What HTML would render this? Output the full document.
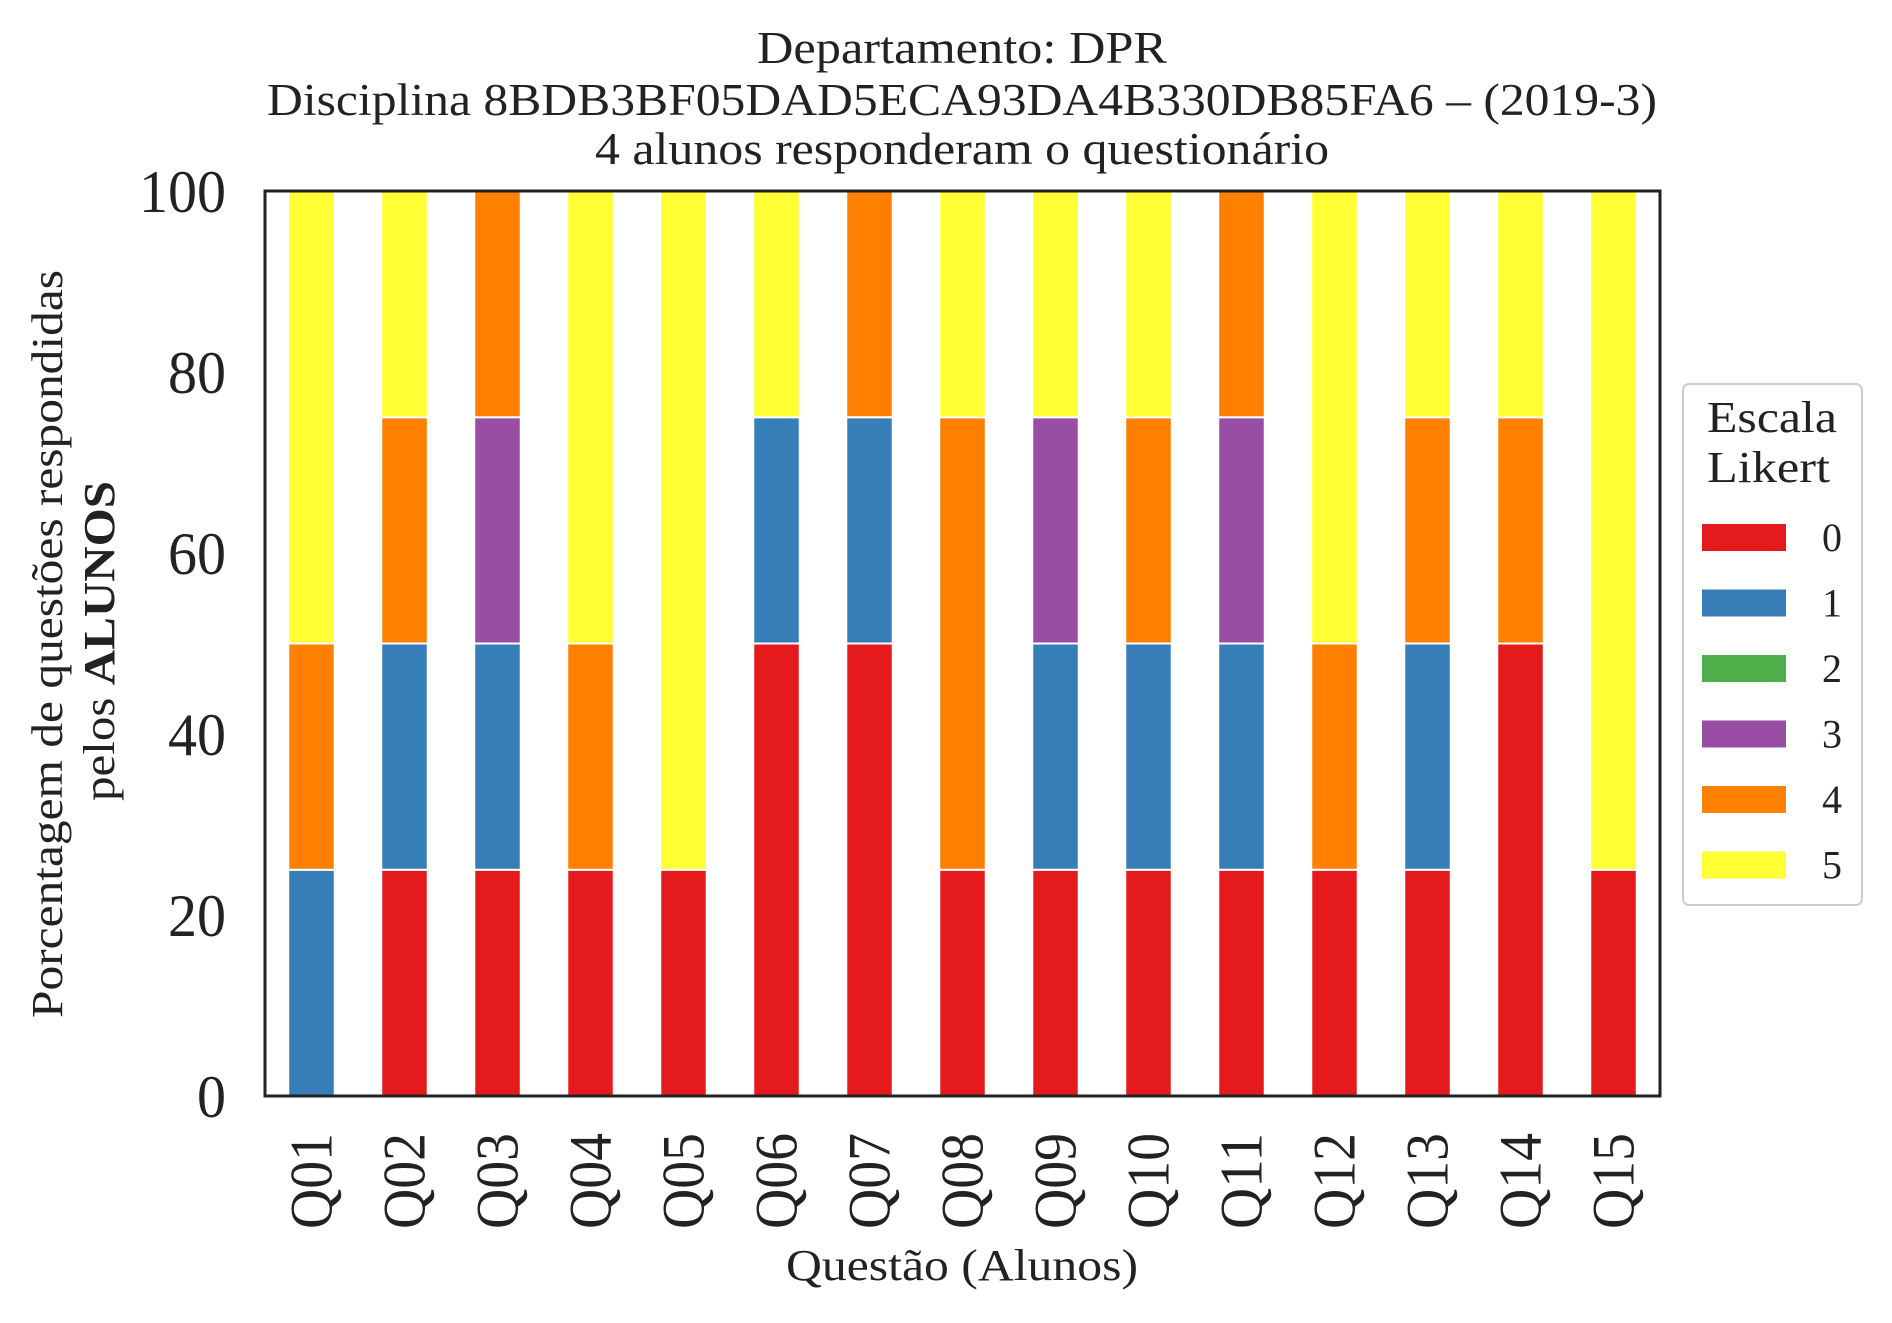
<!DOCTYPE html>
<html><head><meta charset="utf-8"><style>body{margin:0;background:#fff}svg{display:block}text{font-family:"Liberation Serif",serif;fill:#222}</style></head>
<body>
<svg id="c" width="1892" height="1323" xmlns="http://www.w3.org/2000/svg">
<text x="962" y="63" font-size="45" text-anchor="middle" textLength="410" lengthAdjust="spacingAndGlyphs">Departamento: DPR</text>
<text x="962" y="115" font-size="45" text-anchor="middle" textLength="1390" lengthAdjust="spacingAndGlyphs">Disciplina 8BDB3BF05DAD5ECA93DA4B330DB85FA6 – (2019-3)</text>
<text x="962" y="164" font-size="45" text-anchor="middle" textLength="734" lengthAdjust="spacingAndGlyphs">4 alunos responderam o questionário</text>
<g id="bars"></g>
<g id="yt"></g>
<g id="xt"></g>
<rect x="265" y="191" width="1395" height="905" fill="none" stroke="#222" stroke-width="3"/>
<text transform="translate(62,644) rotate(-90)" font-size="44" text-anchor="middle" textLength="748" lengthAdjust="spacingAndGlyphs">Porcentagem de questões respondidas</text>
<text transform="translate(114,641) rotate(-90)" font-size="44" text-anchor="middle" textLength="320" lengthAdjust="spacingAndGlyphs">pelos <tspan font-weight="bold">ALUNOS</tspan></text>
<text x="962" y="1280" font-size="44" text-anchor="middle" textLength="352" lengthAdjust="spacingAndGlyphs">Questão (Alunos)</text>
<g>
<rect x="1683" y="384" width="179" height="521" rx="6" fill="#fff" stroke="#ccc" stroke-width="2"/>
<text x="1707" y="432" font-size="44" textLength="130" lengthAdjust="spacingAndGlyphs">Escala</text>
<text x="1707" y="482" font-size="44" textLength="123" lengthAdjust="spacingAndGlyphs">Likert</text>
<g id="leg"></g>
</g>
</svg>
<script>
const categories=["Q01","Q02","Q03","Q04","Q05","Q06","Q07","Q08","Q09","Q10","Q11","Q12","Q13","Q14","Q15"];
const levels=["0","1","2","3","4","5"];
const colors=["#e41a1c","#377eb8","#4daf4a","#984ea3","#ff7f00","#ffff33"];
const s0=[0,25,25,25,25,50,50,25,25,25,25,25,25,50,25];
const s1=[25,25,25,0,0,25,25,0,25,25,25,0,25,0,0];
const s2=[0,0,0,0,0,0,0,0,0,0,0,0,0,0,0];
const s3=[0,0,25,0,0,0,0,0,25,0,25,0,0,0,0];
const s4=[25,25,25,25,0,0,25,50,0,25,25,25,25,25,0];
const s5=[50,25,0,50,75,25,0,25,25,25,0,50,25,25,75];
const yTicks=[0,20,40,60,80,100];
const series=[s0,s1,s2,s3,s4,s5];
const NS="http://www.w3.org/2000/svg";
const L=265,R=1660,T=191,B=1096;
const bw=(R-L)/categories.length;
const xc=i=>L+bw*(i+0.5);
const y=v=>B-(v/100)*(B-T);
function mk(t,a,p){const e=document.createElementNS(NS,t);for(const k in a)e.setAttribute(k,a[k]);p.appendChild(e);return e;}
const gb=document.getElementById('bars');
categories.forEach((c,i)=>{let acc=0;series.forEach((s,k)=>{const v=s[i];if(v>0){const r=mk('rect',{x:xc(i)-bw/4,y:y(acc+v),width:bw/2,height:y(acc)-y(acc+v),fill:colors[k],stroke:'#fff','stroke-width':2},gb);

}acc+=v;});});
const gy=document.getElementById('yt');
yTicks.forEach(t=>{const len=String(t).length;const e=mk('text',{x:L-39,y:y(t)+21,'font-size':60,'text-anchor':'end',textLength:29*len,lengthAdjust:'spacingAndGlyphs'},gy);e.textContent=t;

});
const gx=document.getElementById('xt');
categories.forEach((c,i)=>{const e=mk('text',{transform:`translate(${xc(i)+20},1133) rotate(-90)`,'font-size':60,'text-anchor':'end',textLength:96,lengthAdjust:'spacingAndGlyphs'},gx);e.textContent=c;

});
const gl=document.getElementById('leg');
levels.forEach((l,k)=>{const yy=524+k*65.5;
const r=mk('rect',{x:1702,y:yy,width:84,height:27,fill:colors[k]},gl);


const t=mk('text',{x:1832,y:yy+27,'font-size':40,'text-anchor':'middle'},gl);t.textContent=l;

});
</script>
</body></html>
